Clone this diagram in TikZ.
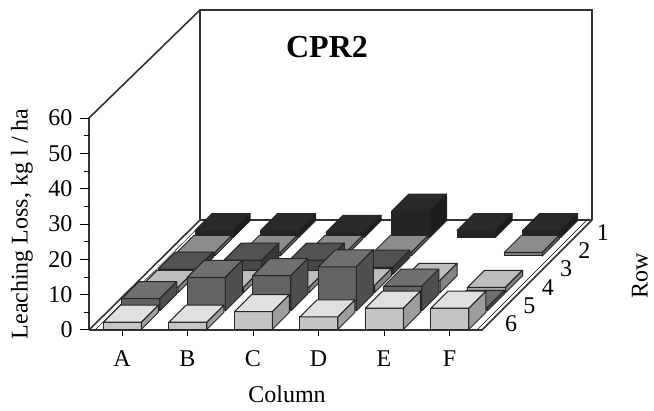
\documentclass[tikz,border=0pt]{standalone}
\usepackage{fontspec}
\setmainfont{Liberation Serif}
\usepackage{tikz}
\usetikzlibrary{positioning}
\usetikzlibrary{calc}
\tikzstyle{lbl} = [font=\fontsize{24}{27}\selectfont, inner sep=0pt]
\tikzstyle{frame} = [draw=black!80, line width=1.6pt]
\tikzstyle{face} = [draw=black!85, line width=1pt, line join=round]
\definecolor{rowa}{gray}{0.16}
\definecolor{rowb}{gray}{0.55}
\definecolor{rowc}{gray}{0.32}
\definecolor{rowd}{gray}{0.74}
\definecolor{rowe}{gray}{0.44}
\definecolor{rowf}{gray}{0.88}
% one column: #1 column index, #2 row, #3 value, #4 colour
\newcommand{\barbox}[4]{%
  \pgfmathsetmacro{\xl}{102.75+65.5*#1}%
  \pgfmathsetmacro{\xr}{\xl+38}%
  \pgfmathsetmacro{\df}{(6-#2)*18.33+0.7}%
  \pgfmathsetmacro{\db}{\df+17}%
  \pgfmathsetmacro{\hh}{3.533*#3}%
  \filldraw[face, fill=#4!88!black] (\xl+\df,330-\df) -- (\xr+\df,330-\df)
    -- (\xr+\df,330-\df-\hh) -- (\xl+\df,330-\df-\hh) -- cycle;
  \filldraw[face, fill=#4] (\xl+\df,330-\df-\hh) -- (\xr+\df,330-\df-\hh)
    -- (\xr+\db,330-\db-\hh) -- (\xl+\db,330-\db-\hh) -- cycle;
  \filldraw[face, fill=#4!70!black] (\xr+\df,330-\df) -- (\xr+\db,330-\db)
    -- (\xr+\db,330-\db-\hh) -- (\xr+\df,330-\df-\hh) -- cycle;
}

\begin{document}
\begin{tikzpicture}[x=1pt,y=-1pt]
    \useasboundingbox (0,0) rectangle (654,411);
    \coordinate (o) at (89,330);
    \coordinate (ytop) at (89,118);
    \coordinate (wtl) at (200,10);
    \coordinate (wtr) at (592,10);
    \coordinate (fbl) at (200,220);
    \coordinate (fbr) at (592,220);
    \coordinate (ffr) at (482,330);

    % walls and floor
    \draw[frame] (o) -- (ytop) -- (wtl) -- (wtr) -- (fbr);
    \draw[frame] (wtl) -- (fbl) -- (fbr);
    \draw[frame] (o) -- (ffr) -- (fbr);
    \draw[frame] (o) -- (fbl);
    \draw[thin] ($(o)+(6,0)$) -- ($(fbl)+(6,0)$);
    \draw[thin] ($(ffr)+(-5,0)$) -- ($(fbr)+(-5,0)$);

    % bars, back row first
    \foreach \r/\vals/\c in {1/{2,2,1.5,7.5,2,2}/rowa, 2/{1,1,1,1,0,1}/rowb,
        3/{1.5,4,4,2,0,0}/rowc, 4/{1.5,1.5,1.5,2,3.5,1.5}/rowd,
        5/{3.5,9.5,10,12.5,7,1}/rowe, 6/{2,2,5,3.5,6,6}/rowf} {
      \foreach \v [count=\i from 0] in \vals {
        \ifdim \v pt>0pt \barbox{\i}{\r}{\v}{\c}\fi
      }
    }

    % value axis
    \foreach \v in {0,10,...,60}
      \draw[line width=1pt] (89,330-3.533*\v) -- ++(-9,0) node[lbl, left=7pt] (t\v) {\v};
    \foreach \v in {5,15,...,55}
      \draw[line width=0.8pt] (89,330-3.533*\v) -- ++(-5,0);
    \node[lbl, rotate=90] (ylab) at (22,224) {Leaching Loss, kg l / ha};

    % columns and rows
    \foreach \l [count=\i from 0] in {A,...,F} {
      \draw[line width=1pt] (122+65.5*\i,330) -- ++(0,6);
      \node[lbl] (c\l) at (122+65.5*\i,359) {\l};
    }
    \node[lbl] (xlab) at (287,394) {Column};
    \foreach \r in {1,...,6}
      \node[lbl] (r\r) at ({502+(6.5-\r)*18.33},{333-(6.5-\r)*18.33}) {\r};
    \node[lbl, rotate=90] (rlab) at (640,276) {Row};

    \node[font=\fontsize{32}{36}\selectfont\bfseries] (title) at (327,47) {CPR2};
\end{tikzpicture}
\end{document}
